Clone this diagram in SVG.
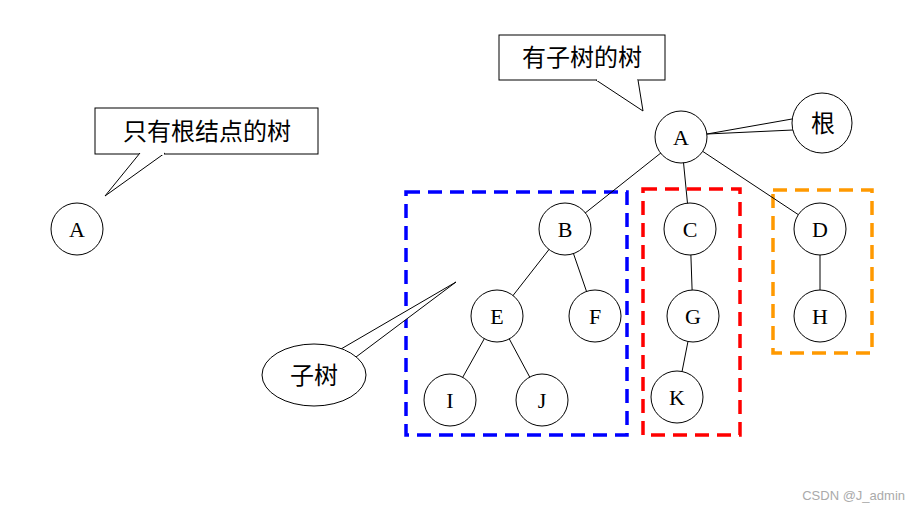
<svg xmlns="http://www.w3.org/2000/svg" width="911" height="511" viewBox="0 0 911 511">
<style>
.n{fill:#fff;stroke:#000;stroke-width:1}
.t{font-family:"Liberation Serif",serif;font-size:22px;text-anchor:middle}
.c{font-family:"Liberation Serif","Noto Sans CJK SC",sans-serif;font-size:24px;text-anchor:middle}
.e{stroke:#000;stroke-width:1;fill:none}
.b{fill:none;stroke-width:3.5;stroke-dasharray:14,8}
</style>
<rect width="911" height="511" fill="#fff"/>
<g id="boxes">
<rect class="b" x="406" y="192" width="221" height="243" stroke="#0000ff"/>
<rect class="b" x="643" y="189" width="97" height="246" stroke="#ff0000"/>
<rect class="b" x="773" y="190" width="99" height="163" stroke="#ff9900"/>
</g>
<g id="connectors">
<line class="e" x1="681" y1="137" x2="565" y2="229"/>
<line class="e" x1="681" y1="137" x2="690" y2="229"/>
<line class="e" x1="681" y1="137" x2="820" y2="229"/>
<line class="e" x1="565" y1="229" x2="497" y2="316"/>
<line class="e" x1="565" y1="229" x2="595" y2="316"/>
<line class="e" x1="690" y1="229" x2="693" y2="316"/>
<line class="e" x1="820" y1="229" x2="820" y2="316"/>
<line class="e" x1="497" y1="316" x2="450" y2="400"/>
<line class="e" x1="497" y1="316" x2="542" y2="400"/>
<line class="e" x1="693" y1="316" x2="677" y2="397"/>
</g>
<g id="A0"><circle class="n" cx="77" cy="229" r="26"/><text class="t" x="77" y="237">A</text></g>
<g id="A"><circle class="n" cx="681" cy="137" r="26"/><text class="t" x="681" y="145">A</text></g>
<g id="B"><circle class="n" cx="565" cy="229" r="26"/><text class="t" x="565" y="237">B</text></g>
<g id="C"><circle class="n" cx="690" cy="229" r="26"/><text class="t" x="690" y="237">C</text></g>
<g id="D"><circle class="n" cx="820" cy="229" r="26"/><text class="t" x="820" y="237">D</text></g>
<g id="E"><circle class="n" cx="497" cy="316" r="26"/><text class="t" x="497" y="324">E</text></g>
<g id="F"><circle class="n" cx="595" cy="316" r="26"/><text class="t" x="595" y="324">F</text></g>
<g id="G"><circle class="n" cx="693" cy="316" r="26"/><text class="t" x="693" y="324">G</text></g>
<g id="H"><circle class="n" cx="820" cy="316" r="26"/><text class="t" x="820" y="324">H</text></g>
<g id="I"><circle class="n" cx="450" cy="400" r="26"/><text class="t" x="450" y="408">I</text></g>
<g id="J"><circle class="n" cx="542" cy="400" r="26"/><text class="t" x="542" y="408">J</text></g>
<g id="K"><circle class="n" cx="677" cy="397" r="26"/><text class="t" x="677" y="405">K</text></g>
<g id="call1">
<rect class="n" x="95" y="108" width="223" height="46"/>
<path class="n" d="M140,153 L105,196 L165,153" />
<line x1="141" y1="154" x2="164" y2="154" stroke="#fff" stroke-width="2"/>
<text class="c" x="207" y="140">只有根结点的树</text>
</g>
<g id="call2">
<rect class="n" x="499" y="35" width="166" height="45"/>
<path class="n" d="M596,80 L643,111 L638,80"/>
<line x1="597" y1="80" x2="637" y2="80" stroke="#fff" stroke-width="2"/>
<text class="c" x="582" y="66">有子树的树</text>
</g>
<g id="call3">
<path class="n" d="M792,119 L707,134 L793,130"/>
<ellipse class="n" cx="822" cy="123" rx="30" ry="30"/>
<path d="M795,119 L795,130" stroke="#fff" stroke-width="3"/>
<text class="c" x="823" y="132">根</text>
</g>
<g id="call4">
<path class="n" d="M341,349 L456,282 L356,357"/>
<ellipse class="n" cx="314" cy="375" rx="52" ry="31"/>
<path d="M343,352 L353,358" stroke="#fff" stroke-width="4"/>
<text class="c" x="314" y="384">子树</text>
</g>
<text x="905" y="500" font-family="Liberation Sans,sans-serif" font-size="13" fill="#aaa" text-anchor="end">CSDN @J_admin</text>
</svg>
